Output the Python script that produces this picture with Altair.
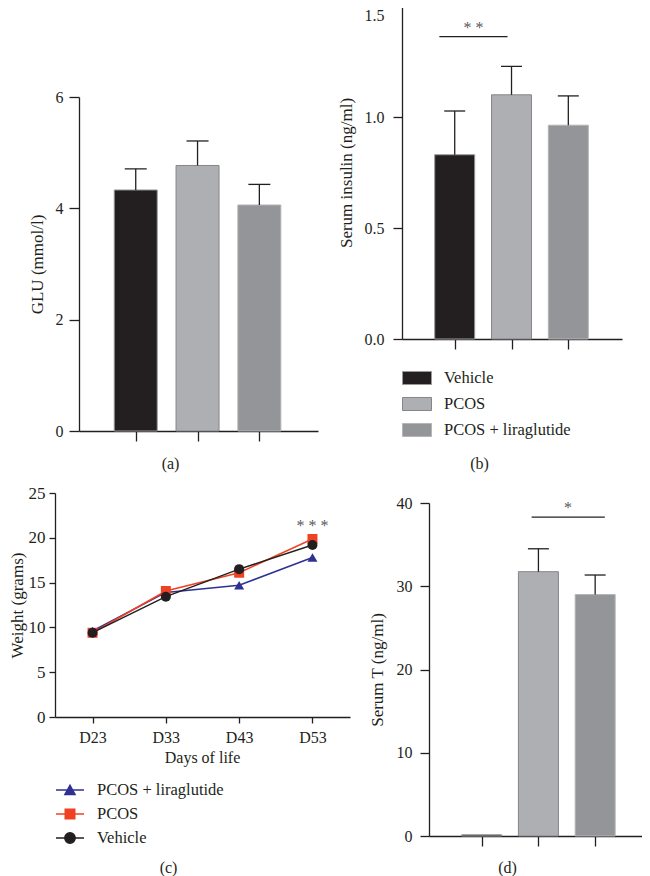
import altair as alt
import pandas as pd

# ---------------- data ----------------
groups = ["Vehicle", "PCOS", "PCOS + liraglutide"]

glu_mean = [4.33, 4.77, 4.06]
glu_top = [4.71, 5.21, 4.43]

ins_mean = [0.83, 1.10, 0.963]
ins_top = [1.027, 1.228, 1.095]

t_mean = [0.15, 31.75, 29.0]
t_top = [None, 34.5, 31.35]

days = ["D23", "D33", "D43", "D53"]
series = ["PCOS + liraglutide", "PCOS", "Vehicle"]
w_lira = [9.6, 13.9, 14.7, 17.8]
w_pcos = [9.4, 14.06, 16.1, 19.87]
w_veh = [9.41, 13.43, 16.5, 19.2]

# significance annotations (data units of each panel)
sig_b = {"x1": -0.27, "x2": 0.93, "y": 1.362, "xt": 0.33, "yt": 1.40, "label": "* *"}
sig_d = {"x1": 0.88, "x2": 2.17, "y": 38.3, "xt": 1.52, "yt": 39.4, "label": "*"}
sig_c = {"day": "D53", "y": 21.3, "label": "* * *"}

# ---------------- styling ----------------
FONT = "Liberation Serif"
INK = "#231f20"
STAR = "#58595b"
bar_fill = ["#231f20", "#aeafb2", "#939598"]
bar_stroke = ["#9a9a9a", "#858688", "#b4b5b7"]
line_cols = ["#2e3192", "#ef4123", "#231f20"]
W, H = 634, 860
LAB, YT, XT, LEG = 16, 17, 16, 16.5


def bar_panel(mean, top, ycfg, xcfg, bar_size, cap, sig=None, legend=None):
    df = pd.DataFrame({"group": groups, "pos": list(range(len(groups))),
                       "mean": mean, "top": top})
    xs = alt.Scale(domain=xcfg["domain"], range=xcfg["range"], nice=False, zero=False)
    ys = alt.Scale(domain=ycfg["domain"], range=ycfg["range"], nice=False, zero=False)
    xaxis = alt.Axis(orient="bottom", offset=xcfg["offset"], values=[0, 1, 2],
                     labels=False, tickSize=10, grid=False, title=xcfg["title"],
                     titleX=xcfg["titleX"], titleY=xcfg["titleY"], titleFontSize=XT,
                     titleBaseline="middle", titleAlign="center", titleAngle=0)
    yextra = {}
    if "labelOffset" in ycfg:
        yextra["labelOffset"] = ycfg["labelOffset"]
    yaxis = alt.Axis(orient="left", offset=ycfg["offset"], values=ycfg["ticks"],
                     format=ycfg["format"], tickSize=ycfg["tickSize"],
                     labelPadding=ycfg["labelPadding"], grid=False, titleFontSize=YT,
                     title=ycfg["title"], titleX=ycfg["titleX"], titleBaseline="middle",
                     **yextra)

    def X(f):
        return alt.X(f, scale=xs, axis=xaxis)

    def Y(f):
        return alt.Y(f, scale=ys, axis=yaxis)

    bars = alt.Chart(df).mark_bar(size=bar_size, strokeWidth=1, orient="vertical").encode(
        x=X("pos:Q"), y=Y("mean:Q"), y2=alt.datum(0),
        fill=alt.Fill("group:N", scale=alt.Scale(domain=groups, range=bar_fill),
                      legend=legend),
        stroke=alt.Stroke("group:N", scale=alt.Scale(domain=groups, range=bar_stroke),
                          legend=None),
    )
    err = alt.Chart(df).transform_filter("isValid(datum.top)").mark_rule(
        color=INK, strokeWidth=1.3).encode(x=X("pos:Q"), y=Y("mean:Q"), y2="top:Q")
    caps = alt.Chart(df).transform_filter("isValid(datum.top)").mark_tick(
        color=INK, orient="horizontal", size=cap, thickness=1.3, opacity=1).encode(
        x=X("pos:Q"), y=Y("top:Q"))
    layers = [bars, err, caps]
    if sig is not None:
        sdf = pd.DataFrame([sig])
        rule = alt.Chart(sdf).mark_rule(color=INK, strokeWidth=1.3).encode(
            x=X("x1:Q"), x2="x2:Q", y=Y("y:Q"))
        txt = alt.Chart(sdf).mark_text(color=STAR, font=FONT, fontSize=16,
                                       baseline="middle").encode(
            x=X("xt:Q"), y=Y("yt:Q"), text="label:N")
        layers += [rule, txt]
    return alt.layer(*layers)


# ---- panel (a)
pa = bar_panel(
    glu_mean, glu_top,
    ycfg=dict(domain=[0, 6], range=[423, 89], offset=-71, ticks=[0, 2, 4, 6],
              format="d", tickSize=10, labelPadding=6, title="GLU (mmol/l)", titleX=-42),
    xcfg=dict(domain=[-0.837, 2.868], range=[71, 310], offset=-437, title="(a)",
              titleX=162, titleY=32),
    bar_size=43, cap=22)

# ---- panel (b)
leg_b = alt.Legend(orient="none", legendX=394, legendY=355, title=None,
                   symbolType="M-1,-0.45H1V0.45H-1Z", symbolSize=841,
                   symbolStrokeColor="#8a8b8d", symbolStrokeWidth=1,
                   symbolOpacity=1, labelFont=FONT, labelFontSize=LEG,
                   labelColor=INK, labelOffset=12, rowPadding=2, padding=0)
pb = bar_panel(
    ins_mean, ins_top,
    ycfg=dict(domain=[0, 1.5], range=[331, -2], offset=-394,
              ticks=[0, 0.5, 1.0, 1.5], format=".1f", tickSize=9, labelPadding=9,
              title="Serum insulin (ng/ml)", titleX=-56,
              labelOffset={"condition": {"test": "datum.value >= 1.5", "value": 9},
                           "value": 0}),
    xcfg=dict(domain=[-0.84, 2.857], range=[394, 614], offset=-529, title="(b)",
              titleX=471, titleY=124),
    bar_size=40, cap=21, sig=sig_b, legend=leg_b)

# ---- panel (d)
pd_ = bar_panel(
    t_mean, t_top,
    ycfg=dict(domain=[0, 40], range=[828, 495], offset=-421,
              ticks=[0, 10, 20, 30, 40], format="d", tickSize=9, labelPadding=8,
              title="Serum T (ng/ml)", titleX=-52),
    xcfg=dict(domain=[-0.84, 2.79], range=[421, 637], offset=-32, title="(d)",
              titleX=499, titleY=31),
    bar_size=40, cap=21, sig=sig_d)

# ---- panel (c) line chart
wdf = pd.DataFrame({
    "day": days * 3,
    "series": [series[0]] * 4 + [series[1]] * 4 + [series[2]] * 4,
    "weight": w_lira + w_pcos + w_veh,
})
xs_c = alt.Scale(type="point", domain=days, range=[47, 342], padding=0.512)
ys_c = alt.Scale(domain=[0, 25], range=[709, 485], nice=False, zero=False)
xaxis_c = alt.Axis(orient="bottom", offset=-151, tickSize=6, labelPadding=6,
                   labelAngle=0, grid=False, title="Days of life", titleX=194,
                   titleY=40, titleFontSize=XT, titleBaseline="middle",
                   titleAlign="center")
yaxis_c = alt.Axis(orient="left", offset=-47, values=[0, 5, 10, 15, 20, 25],
                   tickSize=6, labelPadding=4, labelFontSize=17, grid=False,
                   title="Weight (grams)", titleFontSize=YT,
                   titleX=-38, titleBaseline="middle")
stroke_c = alt.Scale(domain=series, range=line_cols)
shape_c = alt.Scale(domain=series, range=["triangle-up", "square", "circle"])

c_layers = []
for s in series:
    base = alt.Chart(wdf).transform_filter(alt.datum.series == s)
    c_layers.append(base.mark_line(strokeWidth=1.5).encode(
        x=alt.X("day:N", scale=xs_c, axis=xaxis_c, sort=days),
        y=alt.Y("weight:Q", scale=ys_c, axis=yaxis_c),
        stroke=alt.Stroke("series:N", scale=stroke_c, legend=None)))
    c_layers.append(base.mark_point(filled=True, opacity=1, size=100).encode(
        x=alt.X("day:N", scale=xs_c, axis=xaxis_c, sort=days),
        y=alt.Y("weight:Q", scale=ys_c, axis=yaxis_c),
        fill=alt.Fill("series:N", scale=stroke_c, legend=None),
        shape=alt.Shape("series:N", scale=shape_c, legend=None)))
cdf = pd.DataFrame([sig_c])
c_layers.append(alt.Chart(cdf).mark_text(color=STAR, font=FONT, fontSize=16,
                                         baseline="middle").encode(
    x=alt.X("day:N", scale=xs_c, axis=xaxis_c, sort=days),
    y=alt.Y("y:Q", scale=ys_c, axis=yaxis_c),
    text="label:N"))
pc = alt.layer(*c_layers)

# legend of panel (c) plus its "(c)" caption
tri = "M-1,0H1M-0.36,0.32L0,-0.34L0.36,0.32Z"
sq = "M-1,0H1M-0.34,-0.34H0.34V0.34H-0.34Z"
circ = "M-1,0H1M-0.37,0A0.37,0.37 0 1,0 0.37,0A0.37,0.37 0 1,0 -0.37,0Z"
leg_c_props = dict(orient="none", legendX=47, legendY=767, title=None,
                   symbolSize=784, symbolStrokeWidth=1.5, symbolOpacity=1,
                   labelFont=FONT, labelFontSize=LEG, labelColor=INK,
                   labelOffset=12, rowPadding=0, padding=0)
leg_c = alt.Chart(wdf).transform_filter("false").mark_point(
    filled=True, opacity=1, strokeWidth=1.5).encode(
    x=alt.X("day:N", scale=alt.Scale(type="point", domain=days, range=[47, 342]),
            axis=alt.Axis(orient="bottom", offset=-151, labels=False, ticks=False,
                          domain=False, grid=False, title="(c)", titleX=160,
                          titleY=150, titleFontSize=XT, titleBaseline="middle",
                          titleAlign="center")),
    fill=alt.Fill("series:N", scale=alt.Scale(domain=series, range=line_cols),
                  legend=alt.Legend(**leg_c_props)),
    stroke=alt.Stroke("series:N", scale=alt.Scale(domain=series, range=line_cols),
                      legend=alt.Legend(**leg_c_props)),
    shape=alt.Shape("series:N", scale=alt.Scale(domain=series, range=[tri, sq, circ]),
                    legend=alt.Legend(**leg_c_props)),
)

chart = alt.layer(pa, pb, pc, pd_, leg_c).resolve_scale(
    x="independent", y="independent", fill="independent",
    stroke="independent", shape="independent",
).properties(
    width=W, height=H,
    padding={"left": 0, "top": 0, "right": 0, "bottom": 8},
    autosize=alt.AutoSizeParams(type="none"),
).configure_view(stroke=None).configure_axis(
    domainColor=INK, tickColor=INK, domainWidth=1.3, tickWidth=1.3,
    labelFont=FONT, labelFontSize=LAB, labelColor=INK,
    titleFont=FONT, titleFontSize=YT, titleFontWeight="normal", titleColor=INK,
)

chart.save("out.html", embed_options={"renderer": "svg", "actions": False})
